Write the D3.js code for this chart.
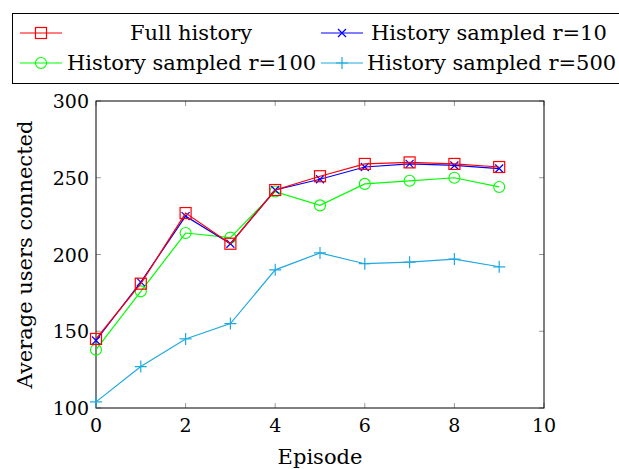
<!DOCTYPE html>
<meta charset="utf-8">
<script src="https://d3js.org/d3.v7.min.js"></script>
<style>
  body { margin: 0; background: #fff; }
</style>
<div id="viz"></div>
<script>
// data
const episodes = [0, 1, 2, 3, 4, 5, 6, 7, 8, 9];
const fullHistory = [145, 181, 227, 207, 242, 251, 259, 260, 259, 257];
const sampled10 = [144, 182, 225, 207, 242, 249, 257, 259, 258, 256];
const sampled100 = [138, 176, 214, 211, 241, 232, 246, 248, 250, 244];
const sampled500 = [104, 127, 145, 155, 190, 201, 194, 195, 197, 192];
const xTicks = [0, 2, 4, 6, 8, 10];
const yTicks = [100, 150, 200, 250, 300];

const series = [
  {name: "Full history", values: fullHistory, color: "#ff0000", mark: "square"},
  {name: "History sampled r=10", values: sampled10, color: "#0000ff", mark: "x"},
  {name: "History sampled r=100", values: sampled100, color: "#00ff00", mark: "circle"},
  {name: "History sampled r=500", values: sampled500, color: "#1fa9df", mark: "plus"}
];

const W = 619, H = 469;
const plot = {left: 96, right: 544, top: 101, bottom: 408};
const FONT = "'DejaVu Serif', 'Liberation Serif', serif";
const FS = 19;   // tick labels
const FT = 21;   // titles and legend

const svg = d3.select("#viz").append("svg")
  .attr("width", W).attr("height", H)
  .attr("font-family", FONT);

const x = d3.scaleLinear().domain([0, 10]).range([plot.left, plot.right]);
const y = d3.scaleLinear().domain([100, 300]).range([plot.bottom, plot.top]);

// ticks (inside, both sides)
const tickLen = 5;
const tg = svg.append("g").attr("stroke", "#9a9a9a").attr("stroke-width", 1);
xTicks.forEach(t => {
  tg.append("line").attr("x1", x(t)).attr("x2", x(t)).attr("y1", plot.bottom).attr("y2", plot.bottom - tickLen);
  tg.append("line").attr("x1", x(t)).attr("x2", x(t)).attr("y1", plot.top).attr("y2", plot.top + tickLen);
});
yTicks.forEach(t => {
  tg.append("line").attr("y1", y(t)).attr("y2", y(t)).attr("x1", plot.left).attr("x2", plot.left + tickLen);
  tg.append("line").attr("y1", y(t)).attr("y2", y(t)).attr("x1", plot.right).attr("x2", plot.right - tickLen);
});

// frame
svg.append("rect")
  .attr("x", plot.left).attr("y", plot.top)
  .attr("width", plot.right - plot.left).attr("height", plot.bottom - plot.top)
  .attr("fill", "none").attr("stroke", "#000").attr("stroke-width", 1);

// tick labels
svg.append("g").selectAll("text").data(xTicks).join("text")
  .attr("x", d => x(d)).attr("y", plot.bottom + 24)
  .attr("text-anchor", "middle").attr("font-size", FS)
  .text(d => d);
svg.append("g").selectAll("text").data(yTicks).join("text")
  .attr("x", plot.left - 7).attr("y", d => y(d) + 7)
  .attr("text-anchor", "end").attr("font-size", FS)
  .text(d => d);

// axis titles
svg.append("text").attr("x", (plot.left + plot.right) / 2).attr("y", 464)
  .attr("text-anchor", "middle").attr("font-size", FT).text("Episode");
svg.append("text")
  .attr("transform", `translate(32,${(plot.top + plot.bottom) / 2}) rotate(-90)`)
  .attr("text-anchor", "middle").attr("font-size", FT).text("Average users connected");

// markers
function drawMark(g, kind, cx, cy, color) {
  const r = 5.5;
  if (kind === "square") {
    g.append("rect").attr("x", cx - r).attr("y", cy - r).attr("width", 2 * r).attr("height", 2 * r)
      .attr("fill", "none").attr("stroke", color).attr("stroke-width", 1.2);
  } else if (kind === "circle") {
    g.append("circle").attr("cx", cx).attr("cy", cy).attr("r", r)
      .attr("fill", "none").attr("stroke", color).attr("stroke-width", 1.1);
  } else if (kind === "x") {
    const s = 4;
    g.append("path").attr("d", `M${cx - s},${cy - s}L${cx + s},${cy + s}M${cx - s},${cy + s}L${cx + s},${cy - s}`)
      .attr("stroke", color).attr("stroke-width", 1.2).attr("fill", "none");
  } else if (kind === "plus") {
    const s = 6;
    g.append("path").attr("d", `M${cx - s},${cy}L${cx + s},${cy}M${cx},${cy - s}L${cx},${cy + s}`)
      .attr("stroke", color).attr("stroke-width", 1.2).attr("fill", "none");
  }
}

const line = d3.line().x((d, i) => x(episodes[i])).y(d => y(d));
const lg = svg.append("g");
series.slice().reverse().forEach(s => {
  const g = lg.append("g");
  g.append("path").datum(s.values).attr("d", line)
    .attr("fill", "none").attr("stroke", s.color).attr("stroke-width", 1.2);
  s.values.forEach((v, i) => drawMark(g, s.mark, x(episodes[i]), y(v), s.color));
});

// legend
const leg = svg.append("g");
leg.append("rect").attr("x", 12.5).attr("y", 13.5).attr("width", 612).attr("height", 70)
  .attr("fill", "#fff").attr("stroke", "#000").attr("stroke-width", 1);
const legPos = [
  {lx: 20, ty: 33, tx: 191, anchor: "middle"},
  {lx: 321, ty: 33, tx: 371, anchor: "start"},
  {lx: 20, ty: 63, tx: 67, anchor: "start"},
  {lx: 321, ty: 63, tx: 367, anchor: "start"}
];
series.forEach((s, i) => {
  const p = legPos[i];
  leg.append("line").attr("x1", p.lx).attr("x2", p.lx + 42).attr("y1", p.ty).attr("y2", p.ty)
    .attr("stroke", s.color).attr("stroke-width", 1.2);
  drawMark(leg, s.mark, p.lx + 21, p.ty, s.color);
  leg.append("text").attr("x", p.tx).attr("y", p.ty + 7)
    .attr("text-anchor", p.anchor).attr("font-size", FT).text(s.name);
});
</script>
